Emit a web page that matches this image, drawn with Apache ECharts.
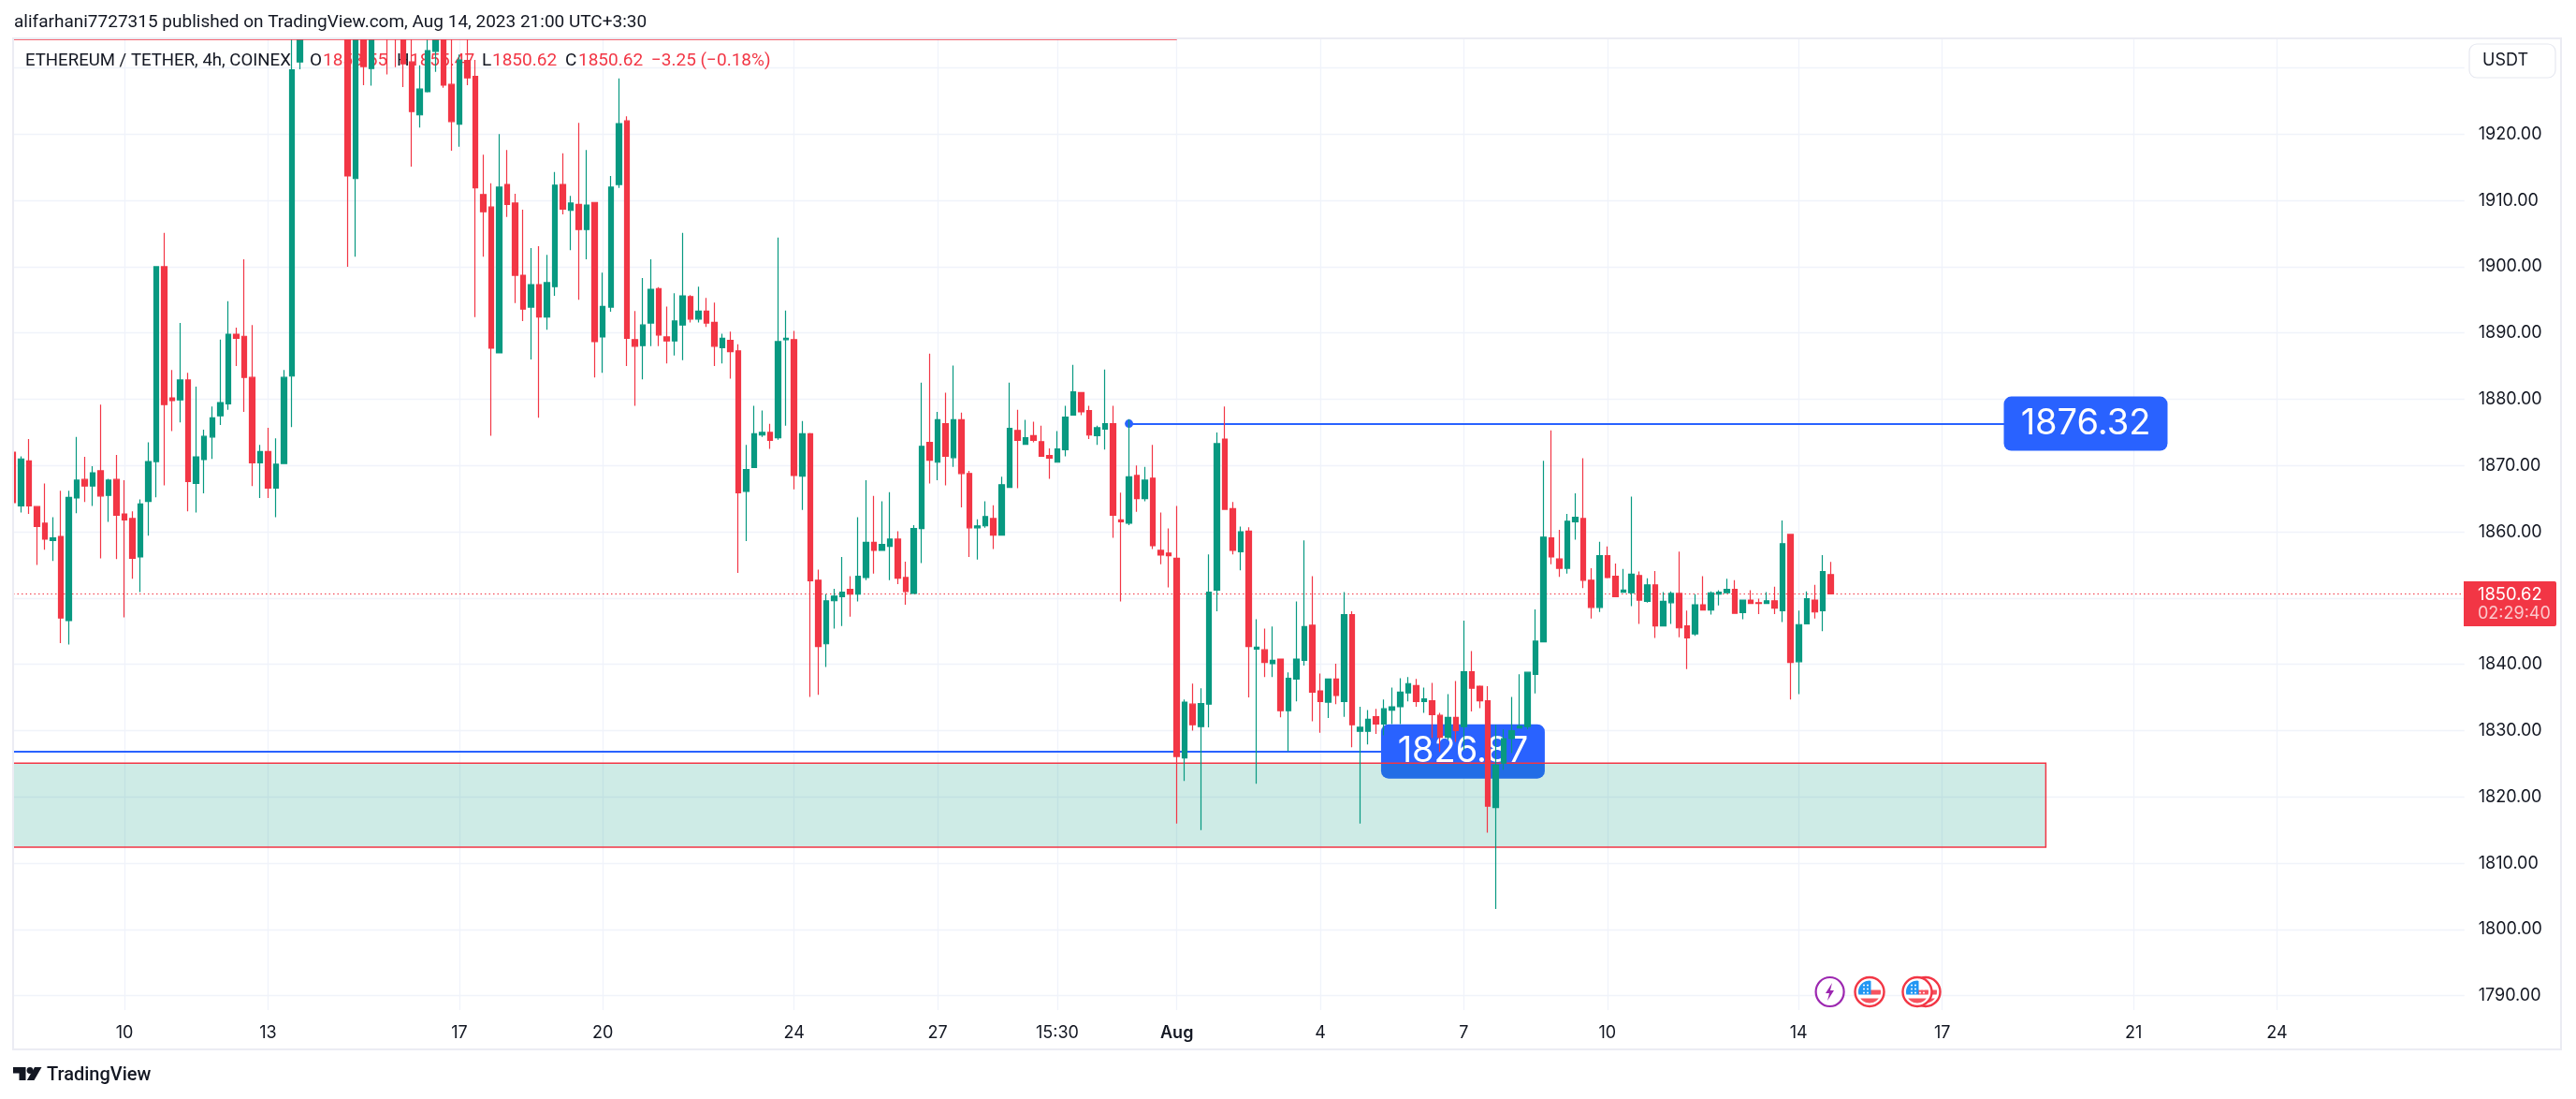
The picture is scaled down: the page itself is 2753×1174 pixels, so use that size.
<!DOCTYPE html>
<html><head><meta charset="utf-8">
<style>html,body{margin:0;padding:0;background:#fff}#c{width:2753px;height:1174px}</style>
<script src="https://cdn.jsdelivr.net/npm/echarts@6/dist/echarts.min.js"></script>
</head><body><div id="c"></div>
<script>
const opens=[1872.0,1863.9,1870.7,1863.8,1861.3,1858.7,1859.3,1846.6,1865.1,1867.9,1866.9,1869.2,1865.5,1867.9,1862.7,1862.0,1856.2,1864.6,1870.6,1900.0,1880.2,1879.9,1882.9,1867.3,1870.9,1874.3,1877.5,1879.3,1889.8,1889.5,1883.3,1870.4,1872.1,1866.6,1870.3,1883.5,1930.9,1945,1952,1948,1956,1950,1946,1913.3,1945,1929.9,1945,1945,1945,1945,1930.9,1922.9,1926.4,1932.5,1945,1927.5,1921.5,1931.1,1928.7,1910.9,1909.0,1887.0,1912.4,1909.6,1898.7,1893.9,1897.3,1892.4,1897.0,1912.4,1908.5,1909.4,1905.6,1909.7,1889.4,1893.9,1912.4,1922.0,1889.0,1888.1,1891.5,1896.7,1889.4,1888.8,1891.2,1895.5,1892.1,1893.3,1891.6,1887.8,1888.9,1887.3,1866.1,1869.7,1874.6,1875.0,1874.2,1889.0,1889.0,1868.4,1874.8,1852.7,1843.1,1849.6,1850.2,1851.3,1850.6,1853.1,1858.4,1857.2,1857.8,1858.9,1853.1,1850.7,1860.5,1873.5,1870.5,1876.3,1871.2,1876.9,1868.8,1860.6,1860.9,1862.0,1859.5,1866.7,1875.3,1873.2,1874.5,1873.6,1871.5,1870.5,1872.4,1877.6,1881.0,1878.3,1874.5,1875.5,1876.3,1861.8,1861.3,1868.5,1865.0,1868.1,1857.2,1856.8,1856.0,1825.9,1834.0,1830.6,1834.0,1851.2,1874.0,1863.5,1857.0,1860.1,1842.3,1842.2,1840.1,1840.8,1833.0,1837.8,1840.6,1845.9,1836.0,1834.3,1837.8,1834.4,1847.5,1829.9,1829.9,1832.1,1831.0,1833.1,1833.6,1835.7,1836.8,1834.4,1834.5,1832.3,1829.0,1832.0,1830.6,1838.9,1836.7,1834.5,1818.4,1825.1,1828.8,1830.4,1830.6,1838.5,1843.4,1859.1,1855.9,1854.5,1861.5,1862.0,1852.7,1848.6,1856.4,1853.3,1850.9,1850.8,1853.4,1849.5,1852.0,1845.8,1849.3,1850.7,1845.8,1844.6,1849.0,1848.2,1850.6,1850.8,1851.3,1847.8,1849.7,1849.3,1849.2,1849.6,1848.1,1859.6,1840.4,1846.1,1849.7,1848.1,1853.55];
const closes=[1864.4,1871.0,1863.9,1860.8,1858.9,1859.1,1847.0,1865.2,1867.8,1866.9,1868.9,1865.4,1867.8,1862.5,1861.8,1856.0,1864.2,1870.6,1900.0,1879.2,1879.8,1882.9,1867.6,1871.3,1874.4,1877.2,1879.5,1889.8,1889.2,1883.3,1870.4,1872.1,1866.6,1870.2,1883.3,1929.7,1945,1952,1948,1956,1950,1946,1913.7,1945,1930.2,1945,1948,1936,1934.4,1930.6,1923.4,1926.8,1932.6,1945,1927.4,1921.9,1931.2,1928.5,1911.9,1908.3,1887.7,1912.0,1909.4,1898.7,1893.6,1897.3,1892.4,1897.6,1912.3,1908.7,1909.6,1905.6,1909.3,1888.7,1894.0,1912.0,1921.6,1889.2,1888.0,1891.2,1896.6,1889.7,1888.8,1891.8,1895.6,1892.1,1893.3,1891.5,1888.0,1889.2,1887.2,1865.9,1869.4,1874.8,1875.0,1873.8,1888.7,1889.2,1868.5,1874.8,1852.6,1842.7,1849.6,1850.3,1850.9,1850.6,1853.3,1858.4,1857.2,1858.1,1858.9,1853.0,1851.0,1860.5,1872.9,1870.8,1876.9,1871.4,1876.9,1868.8,1860.6,1860.9,1862.3,1859.5,1867.1,1875.6,1873.8,1874.2,1873.8,1871.4,1871.1,1872.5,1877.3,1881.1,1878.1,1874.6,1875.7,1876.3,1862.5,1861.5,1868.3,1865.0,1867.8,1857.9,1856.5,1856.4,1826.1,1834.3,1830.9,1834.1,1850.9,1873.3,1863.4,1857.2,1860.0,1842.7,1842.6,1840.3,1840.6,1833.0,1837.9,1840.8,1845.7,1835.8,1834.4,1837.8,1835.3,1847.5,1830.9,1830.5,1831.7,1831.0,1833.3,1833.6,1835.8,1837.1,1834.4,1834.8,1832.4,1829.0,1832.0,1830.0,1838.9,1836.4,1834.5,1818.6,1824.8,1828.8,1830.0,1830.7,1838.8,1843.5,1859.2,1856.2,1854.5,1861.6,1862.2,1852.7,1848.6,1856.4,1853.1,1850.2,1851.2,1853.6,1849.7,1852.0,1845.8,1849.5,1850.7,1845.5,1844.0,1849.0,1848.2,1850.8,1850.9,1851.3,1847.7,1849.7,1849.2,1849.2,1849.6,1848.5,1858.2,1840.3,1846.0,1849.9,1847.9,1854.0,1850.62];
const lows=[1864.4,1862.9,1862.7,1855.0,1857.3,1855.6,1843.2,1843.0,1862.8,1864.5,1863.9,1856.0,1861.5,1855.9,1847.1,1852.9,1850.9,1859.4,1865.2,1867.0,1875.2,1876.5,1863.1,1862.9,1865.8,1871.0,1876.1,1878.4,1885.0,1878.1,1866.9,1865.1,1865.1,1862.2,1870.3,1875.8,1929.8,1942,1944,1945,1946,1942,1900.0,1901.5,1927.4,1927.3,1938,1929.0,1930.1,1927.1,1915.1,1921.0,1926.3,1929.4,1927.0,1917.5,1918.1,1927.4,1892.4,1901.5,1874.5,1887.0,1907.5,1894.5,1891.8,1886.0,1877.2,1890.5,1895.6,1907.9,1902.5,1895.0,1901.1,1883.3,1884.0,1893.2,1911.9,1885.0,1879.0,1883.0,1888.0,1888.0,1885.4,1886.6,1885.9,1891.6,1891.6,1890.9,1885.0,1885.4,1883.1,1853.8,1858.6,1869.7,1874.3,1872.5,1873.9,1876.0,1866.4,1863.3,1835.1,1835.4,1839.6,1845.4,1845.8,1847.2,1849.5,1852.7,1853.7,1857.2,1852.7,1852.1,1849.0,1850.7,1855.3,1867.3,1867.8,1867.0,1869.8,1863.7,1856.2,1855.8,1860.6,1857.4,1859.5,1866.7,1866.6,1873.1,1873.5,1871.4,1868.0,1870.5,1871.4,1877.6,1877.6,1874.0,1873.1,1872.4,1859.1,1849.5,1861.0,1863.0,1864.6,1857.4,1855.1,1851.6,1816.0,1822.4,1830.0,1815.0,1830.5,1848.0,1863.4,1856.6,1854.2,1835.0,1822.0,1838.1,1838.1,1832.0,1826.9,1834.4,1839.8,1831.4,1829.7,1831.9,1834.0,1832.1,1827.5,1816.0,1827.9,1829.5,1829.3,1831.0,1831.0,1834.4,1833.6,1832.7,1828.9,1826.8,1828.6,1828.3,1827.0,1832.9,1833.4,1814.6,1803.1,1824.1,1826.6,1830.4,1830.2,1835.6,1843.4,1855.1,1853.2,1853.7,1858.8,1851.5,1846.9,1847.9,1853.0,1850.2,1850.9,1848.8,1846.1,1849.3,1844.0,1845.8,1846.1,1844.1,1839.3,1844.3,1848.2,1847.5,1848.9,1850.8,1847.7,1846.8,1849.2,1847.6,1849.2,1847.6,1846.4,1834.7,1835.5,1846.1,1846.9,1845.0,1850.62];
const highs=[1872.0,1871.4,1874.0,1863.8,1867.3,1862.2,1866.2,1866.2,1874.3,1871.3,1869.9,1879.2,1868.0,1871.6,1867.8,1863.1,1864.9,1873.5,1900.0,1905.1,1884.4,1891.5,1884.0,1881.9,1875.4,1878.9,1889.0,1894.8,1890.8,1901.1,1891.2,1873.1,1875.7,1874.1,1884.4,1940,1950,1957,1958,1960,1961,1954,1950,1948,1948,1948,1952,1948,1948,1948,1940,1930.4,1938,1948,1948,1938,1932,1938,1931.2,1916.9,1912.6,1920.0,1917.6,1911.0,1908.6,1902.8,1903.1,1901.8,1914.3,1917.1,1910.7,1921.7,1917.6,1909.7,1899.1,1913.7,1928.4,1922.7,1893.3,1898.3,1901.1,1896.9,1894.0,1896.0,1905.1,1895.7,1897.0,1895.3,1894.6,1889.9,1890.2,1888.3,1873.1,1879.0,1878.3,1876.3,1904.4,1893.4,1890.3,1876.7,1874.9,1854.3,1850.6,1851.4,1856.2,1853.3,1862.2,1867.8,1865.4,1864.6,1866.0,1860.1,1855.5,1861.0,1882.5,1886.9,1878.1,1881.0,1885.1,1878.0,1869.2,1861.9,1864.6,1864.0,1868.3,1882.5,1878.4,1876.9,1876.6,1876.0,1872.6,1875.2,1879.0,1885.2,1881.1,1879.0,1876.0,1884.5,1879.0,1865.9,1877.0,1870.0,1869.8,1873.1,1862.9,1860.5,1863.9,1834.7,1837.1,1836.4,1856.6,1875.0,1878.9,1864.5,1860.8,1860.7,1846.8,1845.4,1845.7,1840.8,1838.8,1849.5,1858.7,1853.3,1838.6,1837.8,1840.1,1850.9,1848.0,1833.6,1833.1,1833.3,1834.7,1836.5,1837.9,1838.1,1837.8,1836.5,1837.2,1832.7,1835.5,1837.5,1846.6,1842.0,1836.8,1836.7,1830.9,1830.2,1835.1,1838.5,1838.8,1848.3,1870.7,1875.3,1860.3,1862.7,1865.8,1871.1,1854.5,1858.5,1857.8,1855.2,1854.4,1865.3,1854.0,1853.0,1854.1,1850.9,1851.0,1857.0,1848.1,1850.6,1853.3,1851.0,1851.2,1852.9,1852.7,1849.7,1851.2,1849.9,1850.9,1851.7,1861.7,1859.6,1848.1,1851.0,1852.0,1856.5,1855.47];
const slotCount=308;
const tickSlots=[14,32,56,74,98,116,131,146,164,182,200,224,242,266,284];
const tickLabels=['10','13','17','20','24','27','15:30','Aug','4','7','10','14','17','21','24'];
const priceTicks=[1790,1800,1810,1820,1830,1840,1850,1860,1870,1880,1890,1900,1910,1920];
const gridPrices=[1790,1800,1810,1820,1830,1840,1850,1860,1870,1880,1890,1900,1910,1920,1930];
const lastPrice=1850.62, upperLevel=1876.32, lowerLevel=1826.87, zoneTop=1825.1, zoneBottom=1812.4, topEdgeLine=1934.3;
const zoneEndSlot=255, upperStartSlot=140, upperEndSlot=250, upperLabelSlot=260, lowerLabelSlot=182, topLineEndSlot=146;

const UP='#089981',DOWN='#f23645',INK='#131722',BLUE='#2962ff',GRID='#f0f3fa',FRAME='#ebecf3',FONT='Inter',HEAD='Roboto';
const categories=Array.from({length:slotCount},(_,i)=>'bar'+i);
const ohlc=opens.map((o,i)=>[o,closes[i],lows[i],highs[i]]);
const tickMap={};tickSlots.forEach((s,i)=>tickMap[s]=tickLabels[i]);
const T=(x,y,text,fill,size,z,fam)=>({type:'text',z:z||1,silent:true,style:{x,y,text,fill,font:`${size}px ${fam||FONT}`,verticalAlign:'middle',align:'left'}});
const labelPath='path://M8,0H167A8,8 0 0 1 175,8V50A8,8 0 0 1 167,58H8A8,8 0 0 1 0,50V8A8,8 0 0 1 8,0Z';

function discSlice(cx,cy,r,x0,x1,y0,y1,fill){
  const L=[],R=[];
  for(let y=y0;y<=y1+0.001;y+=0.5){const w=Math.sqrt(Math.max(0,r*r-y*y));
    const a=Math.max(x0,-w),b=Math.min(x1,w); if(b<a)continue; L.push([cx+a,cy+y]);R.unshift([cx+b,cy+y]);}
  return {type:'polygon',z:40,silent:true,shape:{points:L.concat(R)},style:{fill}};
}
function flagIcon(cx,cy){
  const out=[{type:'ellipse',z:40,silent:true,shape:{cx,cy,rx:15.5,ry:15.5},style:{fill:'#fff',stroke:DOWN,lineWidth:2.4}}];
  const r=12;
  out.push(discSlice(cx,cy,r,1,r,-2,3,'#f7525f'));
  out.push(discSlice(cx,cy,r,-r,r,7,r,'#f7525f'));
  out.push(discSlice(cx,cy,r,-r,1.5,-r,3,'#2196f3'));
  [[-6,-7],[-2,-7],[-6,-3],[-2,-3],[-6,1],[-2,1]].forEach(p=>out.push({type:'circle',z:41,silent:true,shape:{cx:cx+p[0],cy:cy+p[1],r:1},style:{fill:'#fff'}}));
  return out;
}
const graphics=[
  {type:'rect',z:30,silent:true,shape:{x:0,y:0,width:2753,height:41},style:{fill:'#fff'}},
  T(15,24,'alifarhani7727315 published on TradingView.com, Aug 14, 2023 21:00 UTC+3:30',INK,19,31,HEAD),
  T(27,65,'ETHEREUM / TETHER, 4h, COINEX',INK,18.6,1,HEAD),
  T(331,65,'O',INK,19,1,HEAD),T(345,65,'1853.55',DOWN,19,1,HEAD),
  T(424,65,'H',INK,19,1,HEAD),T(438,65,'1855.47',DOWN,19,1,HEAD),
  T(515,65,'L',INK,19,1,HEAD),T(526,65,'1850.62',DOWN,19,1,HEAD),
  T(604,65,'C',INK,19,1,HEAD),T(618,65,'1850.62',DOWN,19,1,HEAD),
  T(696,65,'\u22123.25 (\u22120.18%)',DOWN,19,1,HEAD),
  {type:'rect',z:50,silent:true,shape:{x:0,y:30,width:14,height:1060},style:{fill:'#fff'}},
  {type:'rect',z:51,silent:true,shape:{x:14,y:41,width:2723,height:1080},style:{fill:'none',stroke:FRAME,lineWidth:2}},
  {type:'rect',z:52,silent:true,shape:{x:2639,y:47,width:92,height:36,r:8},style:{fill:'#fff',stroke:'#e6e8f0',lineWidth:1.2}},
  T(2653,65,'USDT',INK,18,53),
  {type:'rect',z:52,silent:true,shape:{x:2633,y:621,width:99,height:48,r:[0,2,2,0]},style:{fill:DOWN}},
  T(2648,635,'1850.62','#fff',18.4,53),
  T(2648,656,'02:29:40','rgba(255,255,255,0.72)',18,53),
  {type:'polygon',z:40,silent:true,shape:{points:[[14,1140],[27.5,1140],[27.5,1154],[20.5,1154],[20.5,1146.5],[14,1146.5]]},style:{fill:INK}},
  {type:'circle',z:40,silent:true,shape:{cx:32,cy:1143.5,r:3.4},style:{fill:INK}},
  {type:'polygon',z:40,silent:true,shape:{points:[[37,1140],[44.5,1140],[36.5,1154],[28.8,1154]]},style:{fill:INK}},
  {type:'text',z:40,silent:true,style:{x:50,y:1149,text:'TradingView',fill:INK,font:`500 20px ${HEAD}`,verticalAlign:'middle',align:'left'}},
  {type:'ellipse',z:40,silent:true,shape:{cx:1955.6,cy:1059.5,rx:15,ry:15.5},style:{fill:'#fff',stroke:'#9c27b0',lineWidth:2.2}},
  {type:'polygon',z:41,silent:true,shape:{points:[[1958,1050],[1951,1061],[1955,1061],[1953,1069],[1960,1058],[1956,1058]]},style:{fill:'#9c27b0'}},
  ...flagIcon(2058,1059.5),...flagIcon(2049,1059.5),...flagIcon(1998,1059.5)
];
const lineBase={symbol:'none',silent:true,animation:false,label:{show:false},emphasis:{disabled:true}};
const option={
  animation:false,backgroundColor:'#fff',
  textStyle:{fontFamily:FONT},
  grid:{left:9.5,top:41,width:2624.2,height:1038,containLabel:false},
  xAxis:{type:'category',data:categories,boundaryGap:true,
    axisLine:{show:false},axisTick:{show:false},splitLine:{show:false},
    axisLabel:{interval:(i)=>tickMap[i]!==undefined,formatter:(v,i)=>tickMap[i]==='Aug'?'{b|Aug}':(tickMap[i]||''),color:INK,fontSize:18,fontFamily:FONT,margin:16,hideOverlap:false,rich:{b:{fontWeight:600,fontSize:18,fontFamily:FONT,color:INK}}}},
  yAxis:{type:'value',position:'right',min:1787.84,max:1934.45,scale:true,
    axisLine:{show:false},axisTick:{show:false},splitLine:{show:false},
    axisLabel:{customValues:priceTicks,formatter:(v)=>Number(v).toFixed(2),color:INK,fontSize:18,fontFamily:FONT,margin:15}},
  graphic:{elements:graphics},
  series:[
    {type:'line',name:'grid',data:[],z:0,silent:true,
      markLine:Object.assign({},lineBase,{z:0,lineStyle:{color:GRID,width:1.3,type:'solid'},
        data:gridPrices.map(v=>({yAxis:v})).concat(tickSlots.map(s=>({xAxis:s})))})},
    {type:'line',name:'lastPrice',data:[],z:0,silent:true,
      markLine:Object.assign({},lineBase,{z:1,lineStyle:{color:DOWN,width:1,type:[1.5,3]},data:[{yAxis:lastPrice}]})},
    {type:'line',name:'levels',data:[],z:1,silent:true,
      markLine:Object.assign({},lineBase,{z:2,lineStyle:{color:BLUE,width:2,type:'solid'},
        data:[[{coord:[upperStartSlot,upperLevel],symbol:'circle',symbolSize:9},{coord:[upperEndSlot,upperLevel],symbol:'none'}],
              [{coord:[0,lowerLevel]},{coord:[lowerLabelSlot,lowerLevel]}]]}),
      markPoint:{z:2,silent:true,animation:false,symbol:labelPath,symbolKeepAspect:false,symbolSize:[175,58],itemStyle:{color:BLUE},
        label:{show:true,position:'inside',color:'#fff',fontSize:38,fontFamily:FONT,formatter:p=>Number(p.value).toFixed(2)},
        data:[{coord:[upperLabelSlot,upperLevel],value:upperLevel},{coord:[lowerLabelSlot,lowerLevel],value:lowerLevel,symbolOffset:[-1,0]}]}},
    {type:'line',name:'zone',data:[],z:2,silent:true,
      markArea:{z:3,silent:true,animation:false,itemStyle:{color:'rgba(8,153,129,0.2)',borderColor:DOWN,borderWidth:1.5},label:{show:false},
        data:[[{coord:[0,zoneTop]},{coord:[zoneEndSlot,zoneBottom]}]]}},
    {type:'candlestick',name:'ETHUSDT',z:5,silent:true,barWidth:6,data:ohlc,
      itemStyle:{color:UP,color0:DOWN,borderColor:UP,borderColor0:DOWN,borderWidth:1.2}},
    {type:'line',name:'topEdge',data:[],z:10,silent:true,
      markLine:Object.assign({},lineBase,{z:10,lineStyle:{color:DOWN,width:1.5,type:'solid'},
        data:[[{coord:[0,topEdgeLine]},{coord:[topLineEndSlot,topEdgeLine]}]]})}
  ]
};
const chart=echarts.init(document.getElementById('c'),null,{renderer:'canvas',width:2753,height:1174});
chart.setOption(option);
</script></body></html>
